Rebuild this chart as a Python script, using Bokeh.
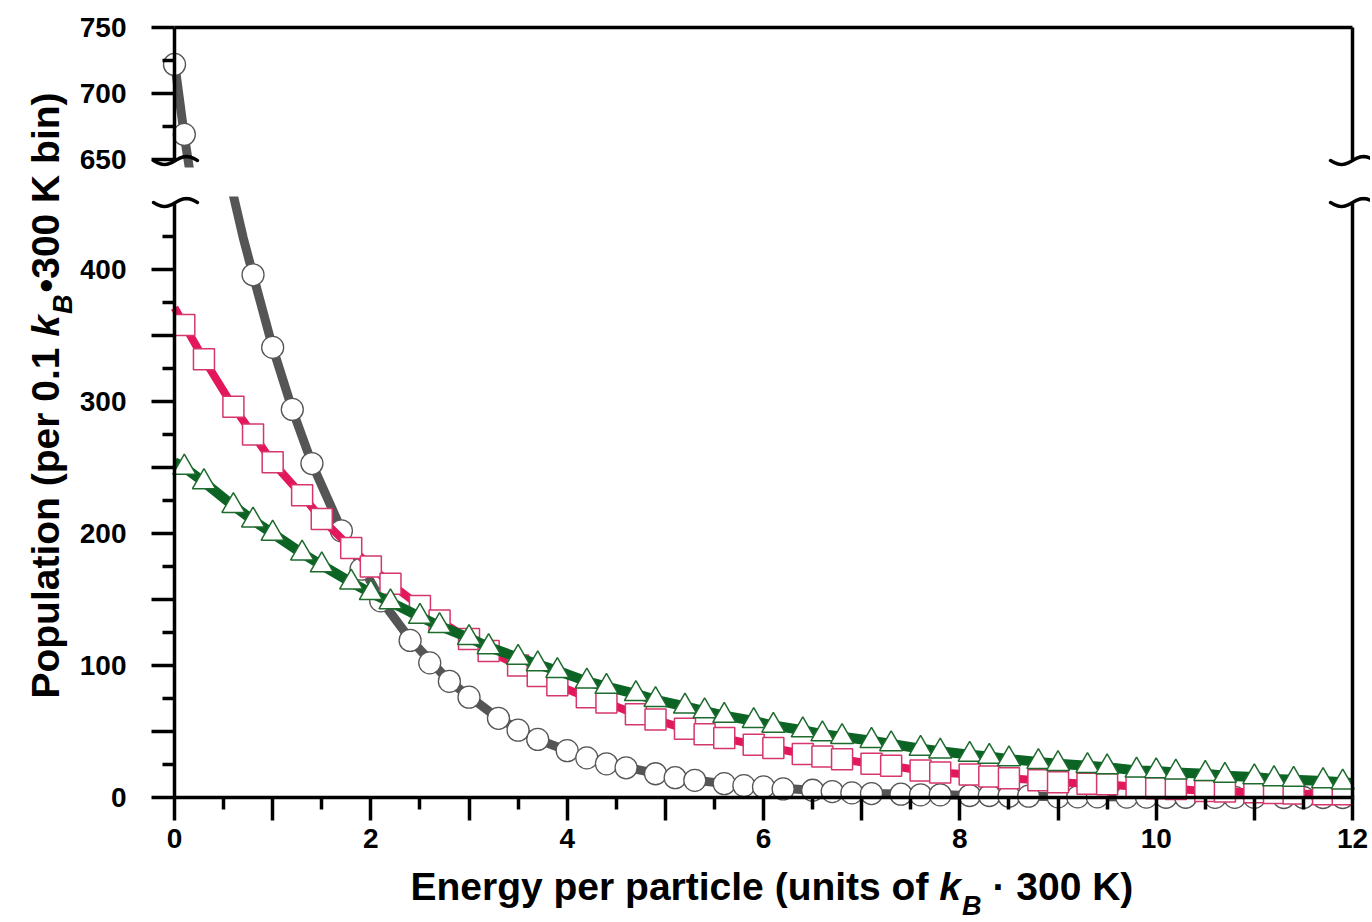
import math
from bokeh.plotting import figure
from bokeh.models import Range1d, LinearAxis, FixedTicker, Label, BoxAnnotation
from bokeh.layouts import row, column
from bokeh.embed import file_html
from bokeh.resources import INLINE

# ---------------- data ----------------
# smooth gray curve (theory)
curve_e = [0, 0.1, 0.2, 0.3, 0.4, 0.5, 0.6, 0.7, 0.8, 1.0, 1.2, 1.4, 1.7, 2.1, 2.4, 2.8,
           3.3, 3.7, 4.2, 4.6, 5.1, 5.6, 6.0, 6.5, 7.1, 7.8, 8.5, 9.4, 10.3, 11.3, 12.0]
curve_n = [724, 668, 620, 576, 534, 494, 456, 424, 396, 341, 294, 253, 203, 150, 120, 88,
           60, 44, 30, 23, 15, 10.5, 8, 5.5, 3, 2, 1, 0.5, 0.2, 0, 0]

# open circles
circ_e = [0, 0.1, 0.3, 0.5, 0.8, 1.0, 1.2, 1.4, 1.7, 1.9, 2.1, 2.4, 2.6, 2.8, 3.0, 3.3, 3.5,
          3.7, 4.0, 4.2, 4.4, 4.6, 4.9, 5.1, 5.3, 5.6, 5.8, 6.0, 6.2, 6.5, 6.7, 6.9, 7.1,
          7.4, 7.6, 7.8, 8.1, 8.3, 8.5, 8.7, 9.0, 9.2, 9.4, 9.7, 9.9, 10.1, 10.3, 10.6,
          10.8, 11.0, 11.3, 11.5, 11.7, 11.9]
circ_n = [722, 669, 577, 494, 396, 341, 294, 253, 202, 173, 149, 119, 102, 88, 76, 60, 51,
          44, 35.5, 30, 25.5, 22.5, 18, 15, 13, 10.5, 9, 8, 6.5, 5.5, 4.5, 3.5, 3,
          2.5, 2, 2, 1.5, 1.5, 1, 1, 0.5, 0.5, 0.5, 0.3, 0.3, 0.2, 0.2, 0.1,
          0.1, 0.1, 0, 0, 0, 0]

# red series (dense filled trace and open squares)
red_e = [0, 0.1, 0.3, 0.6, 0.8, 1.0, 1.3, 1.5, 1.8, 2.0, 2.2, 2.5, 2.7, 3.0, 3.2, 3.5, 3.7,
         3.9, 4.2, 4.4, 4.7, 4.9, 5.2, 5.4, 5.6, 5.9, 6.1, 6.4, 6.6, 6.8, 7.1, 7.3, 7.6,
         7.8, 8.1, 8.3, 8.5, 8.8, 9.0, 9.3, 9.5, 9.8, 10.0, 10.2, 10.5, 10.7, 11.0, 11.2,
         11.4, 11.7, 11.9, 12.0]
red_n = [371, 358, 332, 296, 275, 254, 229, 211, 189, 175, 162, 145, 134, 120, 111, 100, 92,
         85, 76, 72, 63, 59, 52, 48, 45, 40, 37.5, 33, 31, 29, 25.5, 24, 20.5,
         19, 17.5, 16, 14.5, 13, 11.5, 10.5, 10, 8, 7, 6.5, 5, 4.5, 4, 3.5,
         3, 2.5, 2.5, 2]
sq_e = red_e[1:-1]
sq_n = red_n[1:-1]

# green series (dense filled trace and open triangles)
grn_e = red_e
grn_n = [254, 250, 239, 221, 210, 200, 185, 176, 163, 155, 148, 137, 130, 121, 114, 106, 101,
         96, 88, 84, 78.5, 74, 69, 65.5, 62, 58, 54.5, 51, 48, 46, 43, 40.5, 37,
         35, 32.5, 31, 29, 27, 25.5, 24, 23, 20.5, 20, 19, 18, 16.5, 15.5, 14,
         13.5, 12.5, 11.5, 11]
tri_e = grn_e[1:-1]
tri_n = grn_n[1:-1]

# axes
x_major = list(range(0, 13))
x_minor = [i + 0.5 for i in range(12)]
low_major = [0, 50, 100, 150, 200, 250, 300, 350, 400]
low_minor = [25, 75, 125, 175, 225, 275, 325, 375, 425]
up_major = [650, 700, 750]
up_minor = [675, 725]

# ---------------- styling / geometry ----------------
FONT = "Liberation Sans"
GRAY = "#555555"
RED = "#E2185B"
RED_EDGE = "#D5376D"
GREEN = "#0B6424"
GREEN_EDGE = "#1E6B2E"
AXW = 3.5

LEFT_W = 80            # width of the y-title strip
MAIN_W = 1290
PX0 = 174              # page x of E = 0
SX = 98.17             # px per unit of E
SY = 1.32              # px per population unit
UP_TOP_PY = 27         # page y of 750
LO_ZERO_PY = 797       # page y of 0
UP_H = 196
LO_H = 724
UP_CUT_PY = 167        # lowest page y shown for the upper panel data

XR = Range1d((LEFT_W - PX0) / SX, (LEFT_W + MAIN_W - PX0) / SX)


def fig(y0, y1, h):
    p = figure(width=MAIN_W, height=h, x_range=XR, y_range=Range1d(y0, y1),
               output_backend="svg", toolbar_location=None, title=None,
               x_axis_location=None, y_axis_location=None, min_border=0)
    p.outline_line_color = None
    p.xgrid.visible = False
    p.ygrid.visible = False
    p.background_fill_color = "white"
    p.border_fill_color = "white"
    return p


def style_axis(ax):
    ax.axis_line_width = AXW
    ax.axis_line_color = "black"
    ax.major_tick_line_width = AXW
    ax.minor_tick_line_width = AXW
    ax.major_tick_line_color = "black"
    ax.minor_tick_line_color = "black"
    ax.major_tick_in = 0
    ax.minor_tick_in = 0
    ax.major_tick_out = 23
    ax.minor_tick_out = 12
    ax.major_label_text_font = FONT
    ax.major_label_text_font_style = "bold"
    ax.major_label_text_font_size = "28px"
    ax.major_label_text_color = "black"


def plain_axis(loc, bounds):
    ax = LinearAxis(fixed_location=loc, bounds=bounds, ticker=FixedTicker(ticks=[]))
    ax.axis_line_width = AXW
    ax.axis_line_color = "black"
    ax.major_tick_line_color = None
    ax.minor_tick_line_color = None
    return ax


def tilde(p, xc, yc, flip=1.0, left=22, right=22):
    # decorative axis-break mark (computed shape, in panel data coordinates)
    xs, ys = [], []
    n = 20
    for i in range(n + 1):
        dx = -left + (left + right) * i / n
        dy = -4.0 * math.sin(math.pi * dx / 22.0) * flip   # screen px, down positive
        xs.append(xc + dx / SX)
        ys.append(yc - dy / SY)
    p.line(xs, ys, line_color="black", line_width=AXW, line_cap="round")


# ---------------- upper panel (650-750) ----------------
up_y1 = 750 + UP_TOP_PY / SY
up_y0 = 750 - (UP_H - UP_TOP_PY) / SY
up = fig(up_y0, up_y1, UP_H)
ya = LinearAxis(fixed_location=0, bounds=(650, 750),
                ticker=FixedTicker(ticks=up_major, minor_ticks=up_minor))
style_axis(ya)
ya.major_label_standoff = 25
up.add_layout(ya, "left")
up.add_layout(plain_axis(12, (650, 750)), "right")
up.add_layout(plain_axis(750, (0, 12)), "above")

up.line(curve_e, curve_n, line_color=GRAY, line_width=9)
up.scatter(circ_e, circ_n, marker="circle", size=22, fill_color="white",
           line_color=GRAY, line_width=1.3)
# hide the part of the upper panel below the axis break
up.add_layout(BoxAnnotation(top=750 - (UP_CUT_PY - UP_TOP_PY) / SY, fill_color="white",
                            fill_alpha=1.0, line_alpha=0, level="glyph"))
brk_up = 750 - (160 - UP_TOP_PY) / SY
tilde(up, 0.01, brk_up)
tilde(up, 12.0, brk_up)

# ---------------- lower panel (0-450) ----------------
lo_y1 = (LO_ZERO_PY - UP_H) / SY
lo_y0 = (LO_ZERO_PY - (UP_H + LO_H)) / SY
lo = fig(lo_y0, lo_y1, LO_H)
ya2 = LinearAxis(fixed_location=0, bounds=(0, 450),
                 ticker=FixedTicker(ticks=low_major, minor_ticks=low_minor),
                 major_label_overrides={50: "", 150: "", 250: "", 350: ""})
style_axis(ya2)
ya2.major_label_standoff = 25
lo.add_layout(ya2, "left")
xa = LinearAxis(fixed_location=0, bounds=(0, 12),
                ticker=FixedTicker(ticks=x_major, minor_ticks=x_minor),
                major_label_overrides={i: "" for i in x_major if i % 2 == 1})
style_axis(xa)
xa.major_label_standoff = 8
lo.add_layout(xa, "below")
lo.add_layout(plain_axis(12, (0, 450)), "right")

lo.line(curve_e, curve_n, line_color=GRAY, line_width=9)
lo.scatter(circ_e, circ_n, marker="circle", size=22, fill_color="white",
           line_color=GRAY, line_width=1.3)
lo.line(red_e, red_n, line_color=RED, line_width=8)
lo.scatter(sq_e, sq_n, marker="square", size=21, fill_color="white",
           line_color=RED_EDGE, line_width=1.5)
lo.line(grn_e, grn_n, line_color=GREEN, line_width=10)
lo.scatter(tri_e, tri_n, marker="triangle", size=23, fill_color="white",
           line_color=GREEN_EDGE, line_width=1.5)
brk_lo = (LO_ZERO_PY - 202) / SY
tilde(lo, 0.01, brk_lo)
tilde(lo, 12.0, brk_lo)

# x-axis title built from pieces (italic k with subscript B)
W = {' ': 278, '(': 333, ')': 333, '.': 278, '0': 556, '1': 556, '3': 556, '·': 278,
     '•': 350, 'B': 722, 'E': 667, 'K': 722, 'P': 667, 'a': 556, 'b': 611, 'c': 556,
     'e': 556, 'f': 333, 'g': 611, 'i': 278, 'k': 556, 'l': 278, 'n': 611, 'o': 611,
     'p': 611, 'r': 389, 's': 556, 't': 333, 'u': 611, 'y': 556}


def tw(s, size):
    return sum(W[c] for c in s) / 1000.0 * size


TS = 39
SS = 27
# (text, style, size, baseline offset, gap after)
xpieces = [("Energy per particle (units of ", "bold", TS, 0, 0),
           ("k", "bold italic", TS, 0, 1),
           ("B", "bold italic", SS, 19, 11),
           ("· 300 K)", "bold", TS, 0, 0)]
px = 410
base_py = 886
for t, st, s, off, gap in xpieces:
    lo.add_layout(Label(x=(px - PX0) / SX, y=(LO_ZERO_PY - (base_py + off)) / SY, text=t,
                        text_font=FONT, text_font_style=st, text_font_size=f"{s}px",
                        text_color="black", text_align="left", text_baseline="alphabetic"))
    px += tw(t, s) + gap

# ---------------- y-axis title strip ----------------
TOT_H = UP_H + LO_H
yt = figure(width=LEFT_W, height=TOT_H, x_range=Range1d(0, LEFT_W), y_range=Range1d(0, TOT_H),
            output_backend="svg", toolbar_location=None, title=None,
            x_axis_location=None, y_axis_location=None, min_border=0)
yt.outline_line_color = None
yt.xgrid.visible = False
yt.ygrid.visible = False
yt.border_fill_color = "white"
ypieces = [("Population (per 0.1 ", "bold", TS, 0, 0),
           ("k", "bold italic", TS, 0, 1),
           ("B", "bold italic", SS, 17, 2),
           ("•300 K bin)", "bold", TS, 0, 0)]
total = sum(tw(t, s) + g for t, st, s, o, g in ypieces)
py = 395 + total / 2
base_px = 45
for t, st, s, off, gap in ypieces:
    yt.add_layout(Label(x=base_px + off, y=TOT_H - py, text=t, angle=math.pi / 2,
                        text_font=FONT, text_font_style=st, text_font_size=f"{s}px",
                        text_color="black", text_align="left", text_baseline="alphabetic"))
    py -= tw(t, s) + gap

layout = row(yt, column(up, lo))
open("out.html", "w").write(file_html(layout, INLINE))
